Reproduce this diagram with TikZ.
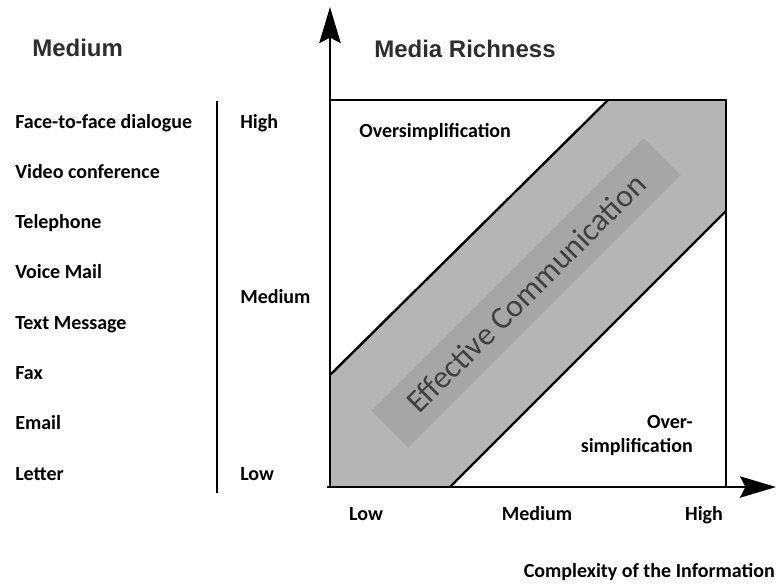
\documentclass[tikz,border=0pt]{standalone}
\usepackage{fontspec}
\setmainfont{Carlito}
\newfontfamily\headfont{Liberation Sans}
\usetikzlibrary{arrows.meta}
\tikzset{
    item/.style={anchor=base west, inner sep=0pt, font=\bfseries\fontsize{15}{18}\selectfont}, % 左侧列表文字
    tick/.style={anchor=base, inner sep=0pt, font=\bfseries\fontsize{15}{18}\selectfont}, % 坐标轴刻度文字
    heading/.style={anchor=base west, inner sep=0pt, text=black!82, font=\headfont\bfseries\fontsize{18}{22}\selectfont}, % 标题
    axis/.style={line width=1.8pt, -{Stealth[length=27pt, width=16pt, inset=4pt]}}, % 坐标轴
    frame/.style={line width=1.8pt} % 边框与对角线
}

\begin{document}
\begin{tikzpicture}[x=0.75pt, y=-0.75pt]
    \useasboundingbox (0,0) rectangle (777,583);
    \def\xa{330} \def\xb{726} \def\ya{100} \def\yb{487}

    % 有效沟通带
    \fill[black!29] (\xa,375) -- (608,\ya) -- (\xb,\ya) -- (\xb,211) -- (450,\yb) -- (\xa,\yb) -- cycle;
    \node (eff) [rotate=45, fill=black!35, minimum width=289pt, minimum height=39pt, text=black!75,
        font=\fontsize{24}{28}\selectfont] at (526,293) {Effective Communication};

    \draw[frame] (\xa,375) -- (608,\ya);
    \draw[frame] (450,\yb) -- (\xb,211);
    \draw[frame] (\xa,\ya) -- (\xb,\ya) -- (\xb,\yb);

    \coordinate (o) at (\xa,\yb);
    \coordinate (ytop) at (\xa,7);
    \coordinate (xstart) at (327,\yb);
    \coordinate (xend) at (776,\yb);
    \draw[axis] (o) -- (ytop);
    \draw[axis] (xstart) -- (xend);

    \node (medhead) [heading] at (32,56) {Medium};
    \node (richhead) [heading] at (374,57) {Media Richness};

    \foreach \t [count=\i] in {Face-to-face dialogue, Video conference, Telephone, Voice Mail, Text Message, Fax, Email, Letter}
        {\node (m\i) [item] at (15,{128+50.3*(\i-1)}) {\t};}

    \draw[line width=2.2pt] (217,101) -- (217,493);
    \node (rhigh) [item] at (240,128) {High};
    \node (rmed) [item] at (240,303) {Medium};
    \node (rlow) [item] at (240,480) {Low};

    \node (over1) [item] at (359,137) {Oversimplification};
    \node (over2) [anchor=east, inner sep=0pt, align=right, font=\bfseries\fontsize{15}{18}\selectfont] at (693,436) {Over-\\simplification};

    \node (clow) [tick] at (366,520) {Low};
    \node (cmed) [tick] at (537,520) {Medium};
    \node (chigh) [tick] at (704,520) {High};
    \node (ctitle) [anchor=base east, inner sep=0pt, font=\bfseries\fontsize{15}{18}\selectfont] at (775,577) {Complexity of the Information};
\end{tikzpicture}
\end{document}
